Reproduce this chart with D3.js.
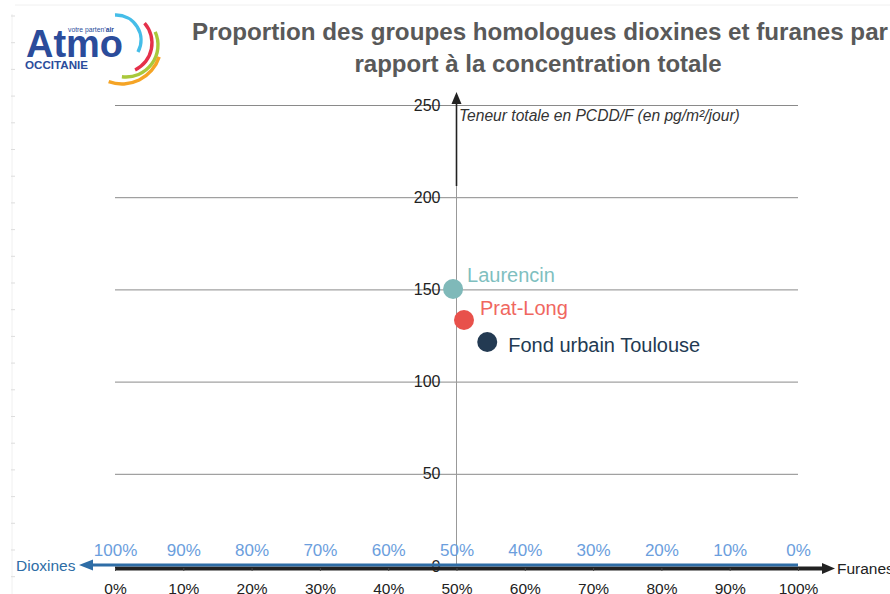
<!DOCTYPE html>
<html>
<head>
<meta charset="utf-8">
<script src="https://cdn.jsdelivr.net/npm/d3@7"></script>
<style>
  body { margin: 0; background: #fff; }
  svg { display: block; font-family: "Liberation Sans", Arial, sans-serif; }
</style>
</head>
<body>
<script>
// data
const sites = ["Laurencin", "Prat-Long", "Fond urbain Toulouse"];
const furanesPct = [49.5, 51.1, 54.5];      // % furanes
const totals = [150.2, 133.4, 121.5];       // pg/m²/jour
const yTicks = [0, 50, 100, 150, 200, 250];
const pctTicks = [0, 10, 20, 30, 40, 50, 60, 70, 80, 90, 100];

const dotColors = ["#7fb9b9", "#e8514b", "#233a52"];
const labelColors = ["#7fbfbf", "#f0675f", "#233a52"];
// label offset from the dot
const labelOff = [[14, -7], [16, -5], [21, 10]];

const width = 890, height = 594;

const svg = d3.select("body").append("svg")
    .attr("width", width)
    .attr("height", height);

// faint ruler artefacts round the screenshot
svg.append("line").attr("x1", 15).attr("x2", width).attr("y1", 5).attr("y2", 5)
    .style("stroke", "#f0f0f0");
svg.append("line").attr("x1", 12).attr("x2", 12).attr("y1", 14).attr("y2", height)
    .style("stroke", "#f0f0f0");
d3.range(16, height, 26.7).forEach(function(y) {
  svg.append("line").attr("x1", 11).attr("x2", 15).attr("y1", y).attr("y2", y)
      .style("stroke", "#ddd");
});

var x = d3.scaleLinear().domain([0, 100]).range([115, 798]);
var xr = d3.scaleLinear().domain([100, 0]).range([115, 798]);
var y = d3.scaleLinear().domain([0, 250]).range([566, 105]);

// gridlines
svg.append("g")
    .attr("transform", "translate(115,0)")
    .call(d3.axisRight(y).tickValues(yTicks.slice(1)).tickSize(683).tickFormat(""))
    .call(g => g.select(".domain").remove())
    .selectAll("line").style("stroke", "#8a8a8a");

// vertical axis in the middle (50%)
var yx = x(50);
svg.append("line")
    .attr("x1", yx).attr("x2", yx).attr("y1", y(0)).attr("y2", 185)
    .style("stroke", "#999").style("stroke-width", 1);
svg.append("line")
    .attr("x1", yx).attr("x2", yx).attr("y1", 186).attr("y2", 100)
    .style("stroke", "#222").style("stroke-width", 1.6);
svg.append("path")
    .attr("d", "M" + yx + ",92L" + (yx - 5) + ",104L" + (yx + 5) + ",104Z")
    .style("fill", "#222");

var yAxis = svg.append("g")
    .attr("transform", "translate(" + (yx - 16) + ",0)")
    .call(d3.axisLeft(y).tickValues(yTicks).tickSize(0).tickPadding(0));
yAxis.select(".domain").remove();
yAxis.selectAll("text")
    .attr("text-anchor", "end")
    .style("font-size", "16px")
    .style("fill", "#222");

svg.append("text")
    .attr("x", 459).attr("y", 121)
    .style("font-size", "15.6px")
    .style("font-style", "italic")
    .style("fill", "#333")
    .text("Teneur totale en PCDD/F (en pg/m²/jour)");

// bottom black axis (furanes)
svg.append("line")
    .attr("x1", 115).attr("x2", 826).attr("y1", 568.5).attr("y2", 568.5)
    .style("stroke", "#222").style("stroke-width", 4);
svg.append("path")
    .attr("d", "M835,568.5L822,563L822,574Z")
    .style("fill", "#222");

var xAxis = svg.append("g")
    .attr("transform", "translate(0,568)")
    .call(d3.axisBottom(x).tickValues(pctTicks).tickSize(3).tickPadding(12)
        .tickFormat(d => d + "%"));
xAxis.select(".domain").remove();
xAxis.selectAll("line").style("stroke", "#444");
xAxis.selectAll("text").style("font-size", "15.5px").style("fill", "#222");

svg.append("text")
    .attr("x", 837).attr("y", 574)
    .style("font-size", "15.5px").style("fill", "#222")
    .text("Furanes");

// blue axis (dioxines)
svg.append("line")
    .attr("x1", 90).attr("x2", 798).attr("y1", 565).attr("y2", 565)
    .style("stroke", "#2e6da6").style("stroke-width", 3);
svg.append("path")
    .attr("d", "M79,565L93,559.5L93,570.5Z")
    .style("fill", "#2e6da6");

var xrAxis = svg.append("g")
    .attr("transform", "translate(0,565)")
    .call(d3.axisTop(xr).tickValues(pctTicks).tickSize(0).tickPadding(9)
        .tickFormat(d => d + "%"));
xrAxis.select(".domain").remove();
xrAxis.selectAll("text").style("font-size", "17px").style("fill", "#6b9edd");

svg.append("text")
    .attr("x", 16).attr("y", 571)
    .style("font-size", "15.5px").style("fill", "#2e6da6")
    .text("Dioxines");

// points
var pts = sites.map(function(s, i) {
  return {name: s, fx: furanesPct[i], total: totals[i], i: i};
});

svg.append("g").selectAll("circle")
    .data(pts)
    .enter().append("circle")
    .attr("cx", d => x(d.fx))
    .attr("cy", d => y(d.total))
    .attr("r", 10)
    .style("fill", d => dotColors[d.i]);

svg.append("g").selectAll("text")
    .data(pts)
    .enter().append("text")
    .attr("x", d => x(d.fx) + labelOff[d.i][0])
    .attr("y", d => y(d.total) + labelOff[d.i][1])
    .style("font-size", "20px")
    .style("fill", d => labelColors[d.i])
    .text(d => d.name);

// title
svg.append("text")
    .attr("x", 540).attr("y", 40)
    .attr("text-anchor", "middle")
    .attr("textLength", 696).attr("lengthAdjust", "spacingAndGlyphs")
    .style("font-size", "24px").style("font-weight", "bold").style("fill", "#595959")
    .text("Proportion des groupes homologues dioxines et furanes par");
svg.append("text")
    .attr("x", 538).attr("y", 72)
    .attr("text-anchor", "middle")
    .attr("textLength", 367).attr("lengthAdjust", "spacingAndGlyphs")
    .style("font-size", "24px").style("font-weight", "bold").style("fill", "#595959")
    .text("rapport à la concentration totale");

// logo
var logo = svg.append("g");
logo.append("text")
    .attr("x", 26).attr("y", 57)
    .attr("textLength", 97).attr("lengthAdjust", "spacingAndGlyphs")
    .style("font-size", "38px").style("font-weight", "bold").style("fill", "#2b4c9b")
    .text("Atmo");
logo.append("text")
    .attr("x", 68).attr("y", 32)
    .attr("textLength", 46).attr("lengthAdjust", "spacingAndGlyphs")
    .style("font-size", "8px").style("fill", "#2b4c9b")
    .html("votre parten’<tspan font-weight='bold'>air</tspan>");
logo.append("text")
    .attr("x", 25).attr("y", 69)
    .attr("textLength", 63).attr("lengthAdjust", "spacingAndGlyphs")
    .style("font-size", "10.5px").style("font-weight", "bold").style("fill", "#2b4c9b")
    .text("OCCITANIE");

var arcs = [
  {cx: 116, cy: 40, r: 25, a0: -0.04, a1: 2.07, c: "#45bde8"},
  {cx: 122, cy: 43, r: 30, a0: 0.85, a1: 2.69, c: "#e5304a"},
  {cx: 126, cy: 45, r: 32, a0: 1.15, a1: 3.27, c: "#a9c83b"},
  {cx: 122, cy: 45, r: 39, a0: 1.88, a1: 3.49, c: "#f5a425"}
];
logo.append("g")
    .selectAll("path")
    .data(arcs)
    .enter().append("path")
    .attr("transform", d => "translate(" + d.cx + "," + d.cy + ")")
    .attr("d", d => d3.arc()({innerRadius: d.r - 1.7, outerRadius: d.r + 1.7,
        startAngle: d.a0, endAngle: d.a1, cornerRadius: 1.7}))
    .style("fill", d => d.c);
</script>
</body>
</html>
